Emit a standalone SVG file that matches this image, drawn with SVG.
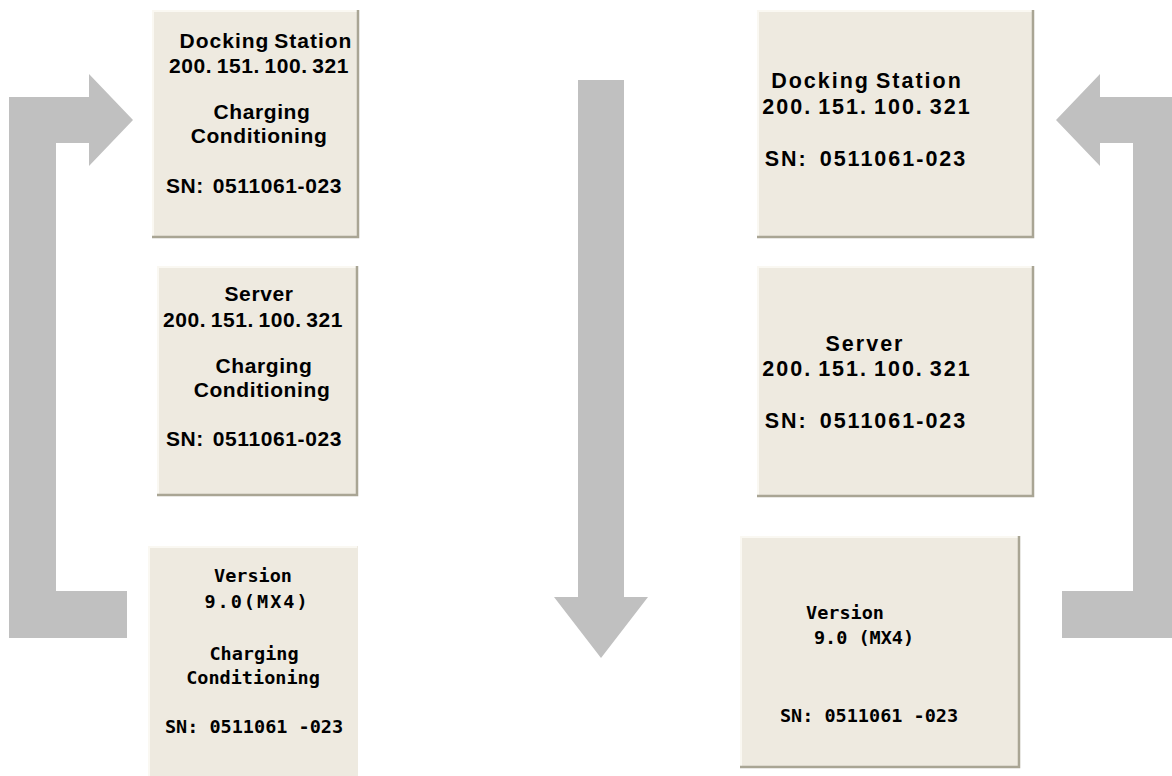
<svg xmlns="http://www.w3.org/2000/svg" width="1172" height="776" viewBox="0 0 1172 776">
<style>
.arrow{fill:#C0C0C0;stroke:none}
.box{fill:#EEEAE0}
.hl{fill:none;stroke:#FAF8F2;stroke-width:2}
.sh{fill:none;stroke:#A9A594;stroke-width:2.5}
.t{font-family:"Liberation Sans",Arial,sans-serif;font-weight:bold;font-size:21px;fill:#000;text-anchor:middle;letter-spacing:0.6px;word-spacing:-2px}
.ip{word-spacing:-2px}
.tr{font-size:21.5px;letter-spacing:2px}
.m{font-family:"DejaVu Sans Mono","Liberation Mono",monospace;font-weight:bold;font-size:18.5px;fill:#000;text-anchor:middle}
</style>
<rect width="1172" height="776" fill="#FFFFFF"/>
<g id="connectors">
<polygon class="arrow" points="9,97 89,97 89,74 133,120 89,166 89,143 56,143 56,591 127,591 127,638 9,638"/>
<polygon class="arrow" points="578,80 624,80 624,597 648,597 601,658 554,597 578,597"/>
<polygon class="arrow" points="1180,97 1100,97 1100,74 1056,120 1100,166 1100,143 1133,143 1133,591 1062,591 1062,638 1180,638"/>
</g>
<g id="node-dock-left">
<rect class="box" x="152" y="10" width="207" height="228"/>
<polyline class="hl" points="153,237 153,11 358,11"/>
<polyline class="sh" points="152,237 358,237 358,10"/>
<text class="t" x="266" y="48" style="letter-spacing:1px">Docking Station</text>
<text class="t ip" x="259" y="73">200. 151. 100. 321</text>
<text class="t" x="262" y="119">Charging</text>
<text class="t" x="259" y="143">Conditioning</text>
<text class="t" x="254" y="193" xml:space="preserve">SN:  0511061-023</text>
</g>
<g id="node-server-left">
<rect class="box" x="157" y="266" width="201" height="230"/>
<polyline class="hl" points="158,495 158,267 357,267"/>
<polyline class="sh" points="157,495 357,495 357,266"/>
<text class="t" x="259" y="301">Server</text>
<text class="t ip" x="253" y="327">200. 151. 100. 321</text>
<text class="t" x="264" y="373">Charging</text>
<text class="t" x="262" y="397">Conditioning</text>
<text class="t" x="254" y="446" xml:space="preserve">SN:  0511061-023</text>
</g>
<g id="node-version-left">
<rect class="box" x="148" y="546" width="210" height="232"/>
<polyline class="hl" points="149,778 149,547 357,547"/>
<text class="m" x="253" y="582">Version</text>
<text class="m" x="257" y="608" style="letter-spacing:2px">9.0(MX4)</text>
<text class="m" x="254" y="660">Charging</text>
<text class="m" x="253" y="684">Conditioning</text>
<text class="m" x="254" y="733" xml:space="preserve">SN: 0511061 -023</text>
</g>
<g id="node-dock-right">
<rect class="box" x="757" y="10" width="277" height="228"/>
<polyline class="hl" points="758,237 758,11 1033,11"/>
<polyline class="sh" points="757,237 1033,237 1033,10"/>
<text class="t tr" x="867" y="88">Docking Station</text>
<text class="t tr ip" x="867" y="114">200. 151. 100. 321</text>
<text class="t tr" x="866" y="166" xml:space="preserve">SN:  0511061-023</text>
</g>
<g id="node-server-right">
<rect class="box" x="757" y="266" width="277" height="231"/>
<polyline class="hl" points="758,496 758,267 1033,267"/>
<polyline class="sh" points="757,496 1033,496 1033,266"/>
<text class="t tr" x="865" y="351">Server</text>
<text class="t tr ip" x="867" y="376">200. 151. 100. 321</text>
<text class="t tr" x="866" y="428" xml:space="preserve">SN:  0511061-023</text>
</g>
<g id="node-version-right">
<rect class="box" x="740" y="536" width="280" height="232"/>
<polyline class="hl" points="741,767 741,537 1019,537"/>
<polyline class="sh" points="740,767 1019,767 1019,536"/>
<text class="m" x="845" y="619">Version</text>
<text class="m" x="864" y="644" xml:space="preserve">9.0 (MX4)</text>
<text class="m" x="869" y="722" xml:space="preserve">SN: 0511061 -023</text>
</g>
</svg>
